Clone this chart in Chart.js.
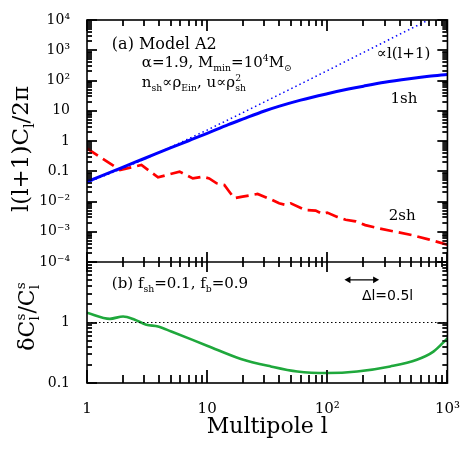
<!DOCTYPE html>
<html><head><meta charset="utf-8">
<script src="https://cdn.jsdelivr.net/npm/chart.js@4.4.1/dist/chart.umd.min.js"></script>
<style>html,body{margin:0;padding:0;background:#fff;}canvas{display:block;}</style>
</head><body>
<canvas id="c" width="469" height="469"></canvas>
<script>
// ---- data ----
const blueL = [1,2,3,5,7,10,15,20,30,40,60,100,150,200,300,500,700,1000];
const blueV = [0.045,0.138,0.264,0.60,1.02,1.8,3.5,5.4,9.8,14.2,22.5,36.6,52,65,87,116,137,158];

const dotL = [1,2,3,5,10,20,50,100,200,400,695];
const dotV = [0.042,0.126,0.25,0.63,2.3,8.8,53.6,212,845,3370,10000];

const redL = [1,1.88,2.84,3.9,5.9,7.6,9.2,10.4,12,13.9,15.3,16.8,19.7,26.3,34.8,39.7,45.2,49.7,66,80,90.7,99.8,121,142,172,207,267,368,505,695,1000];
const redV = [0.57,0.11,0.161,0.063,0.097,0.058,0.066,0.058,0.04,0.035,0.021,0.0128,0.0145,0.0177,0.0112,0.0087,0.0077,0.0087,0.0052,0.005,0.0039,0.0043,0.0031,0.0025,0.0022,0.00166,0.0013,0.001,0.00078,0.00056,0.00037];

const greenL = [1,1.55,2,2.5,3.12,3.9,5.03,10.1,19.1,33.9,56.3,100,177,334,556,764,955,1000];
const greenV = [1.45,1.15,1.26,1.11,0.92,0.86,0.71,0.41,0.25,0.188,0.155,0.146,0.155,0.188,0.242,0.33,0.50,0.55];

const unityL = [1,1000];
const unityV = [1,1];

const arrowL = [150,250];
const arrowV = [5.07,5.07];

const xTicks = [1,10,100,1000];
const xTickLabels = ['1','10','10²','10³'];
const yTopTicks = [1e-4,1e-3,1e-2,0.1,1,10,100,1e3,1e4];
const yTopLabels = ['10⁻⁴','10⁻³','10⁻²','0.1','1','10','10²','10³','10⁴'];
const yBotTicks = [0.1,1,10];
const yBotLabels = ['0.1','1',''];

// ---- helpers ----
const SERIF = "'DejaVu Serif'";
const SANS = "'DejaVu Sans'";
const pts = (L,V)=>L.map((l,i)=>({x:l,y:V[i]}));
const idx = (arr,v)=>arr.findIndex(t=>Math.abs(Math.log10(t)-Math.log10(v))<1e-6);

function segWidth(ctx,s,size,fam){
  const small = size*0.62;
  if(s.p!==undefined && s.b!==undefined){
    ctx.font = small+'px '+fam;
    return Math.max(ctx.measureText(s.p).width, ctx.measureText(s.b).width);
  }
  if(s.t!==undefined){ctx.font=size+'px '+fam;return ctx.measureText(s.t).width;}
  ctx.font = small+'px '+fam;
  return ctx.measureText(s.p!==undefined?s.p:s.b).width;
}
function drawRich(ctx,segs,x,y,size,fam,align){
  let w=0; for(const s of segs) w+=segWidth(ctx,s,size,fam);
  let cx = align==='center'? x-w/2 : x;
  const base = y + size*0.36;
  const small = size*0.62;
  ctx.textAlign='left'; ctx.textBaseline='alphabetic'; ctx.fillStyle='#000';
  for(const s of segs){
    const sw = segWidth(ctx,s,size,fam);
    if(s.t!==undefined){ctx.font=size+'px '+fam;ctx.fillText(s.t,cx,base);}
    else{
      ctx.font=small+'px '+fam;
      if(s.p!==undefined) ctx.fillText(s.p,cx,base-size*0.42);
      if(s.b!==undefined) ctx.fillText(s.b,cx,base+size*0.24);
    }
    cx+=sw;
  }
}

const notes = [
  {l:1.61, v:1740, ax:'yTop', size:16, fam:SERIF, segs:[{t:'(a) Model A2'}]},
  {l:2.86, v:420, ax:'yTop', size:15, fam:SERIF, segs:[{t:'α=1.9, M'},{b:'min'},{t:'=10'},{p:'4'},{t:'M'},{b:'⊙'}]},
  {l:2.86, v:92, ax:'yTop', size:15, fam:SERIF, segs:[{t:'n'},{b:'sh'},{t:'∝ρ'},{b:'Ein'},{t:', u∝ρ'},{p:'2',b:'sh'}]},
  {l:258, v:813, ax:'yTop', size:15, fam:SERIF, segs:[{t:'∝l(l+1)'}]},
  {l:336, v:26.4, ax:'yTop', size:15, fam:SERIF, segs:[{t:'1sh'}]},
  {l:324, v:0.0036, ax:'yTop', size:15, fam:SERIF, segs:[{t:'2sh'}]},
  {l:1.61, v:4.52, ax:'yBot', size:15, fam:SERIF, segs:[{t:'(b) f'},{b:'sh'},{t:'=0.1, f'},{b:'b'},{t:'=0.9'}]},
  {l:194, v:2.87, ax:'yBot', size:14, fam:SANS, segs:[{t:'Δl=0.5l'}]}
];

function logSet(lo,hi){
  const out=[];
  const d0=Math.round(Math.log10(lo)), d1=Math.round(Math.log10(hi));
  for(let d=d0; d<=d1; d++){
    for(let k=1;k<10;k++){
      const v=k*Math.pow(10,d);
      if(v>=lo*0.999 && v<=hi*1.001) out.push([v, k===1]);
    }
  }
  return out;
}

function drawTicks(chart){
  const ctx=chart.ctx, ca=chart.chartArea;
  const sx=chart.scales.x, st=chart.scales.yTop, sb=chart.scales.yBot;
  const mid=st.bottom, W=1.3;
  ctx.save();
  ctx.setTransform(1,0,0,1,0,0);
  ctx.globalAlpha=1; ctx.globalCompositeOperation='source-over';
  ctx.fillStyle='#000';
  const xs=logSet(1,1000);
  for(let i=0;i<xs.length;i++){
    const px=Math.round(sx.getPixelForValue(xs[i][0]));
    const mj=xs[i][1];
    const a=mj?11:6, m=mj?10:5, b=mj?13:8;
    ctx.fillRect(px-W/2, ca.top, W, a);
    ctx.fillRect(px-W/2, mid-m, W, 2*m);
    ctx.fillRect(px-W/2, ca.bottom-b, W, b);
  }
  const sets=[[st,logSet(1e-4,1e4)],[sb,logSet(0.1,10)]];
  for(let j=0;j<sets.length;j++){
    const sc=sets[j][0], list=sets[j][1];
    for(let i=0;i<list.length;i++){
      const py=Math.round(sc.getPixelForValue(list[i][0]));
      const len=list[i][1]?10:5;
      ctx.fillRect(ca.left, py-W/2, len, W);
      ctx.fillRect(ca.right-len, py-W/2, len, W);
    }
  }
  ctx.restore();
}

const framePlugin = {
  id:'framedeco',
  beforeDatasetsDraw(chart){ drawTicks(chart); },
  afterDraw(chart){
    drawTicks(chart);
    const ctx=chart.ctx, ca=chart.chartArea;
    const sx=chart.scales.x, st=chart.scales.yTop, sb=chart.scales.yBot;
    const mid = st.bottom;
    ctx.save();
    ctx.strokeStyle='#000';
    ctx.lineWidth=1.6;
    ctx.setLineDash([]);
    ctx.strokeRect(ca.left, ca.top, ca.right-ca.left, ca.bottom-ca.top);
    ctx.beginPath(); ctx.moveTo(ca.left,mid); ctx.lineTo(ca.right,mid); ctx.stroke();
    for(const n of notes){
      const x=sx.getPixelForValue(n.l), y=chart.scales[n.ax].getPixelForValue(n.v);
      drawRich(ctx,n.segs,x,y,n.size,n.fam,'left');
    }
    drawRich(ctx,[{t:'Multipole l'}],(ca.left+ca.right)/2,425,22,SERIF,'center');
    ctx.save(); ctx.translate(20,(st.top+st.bottom)/2+8); ctx.rotate(-Math.PI/2);
    drawRich(ctx,[{t:'l(l+1)C'},{b:'l'},{t:'/2π'}],0,0,23,SERIF,'center');
    ctx.restore();
    ctx.save(); ctx.translate(26,(sb.top+sb.bottom)/2-6); ctx.rotate(-Math.PI/2);
    drawRich(ctx,[{t:'δC'},{p:'s',b:'l'},{t:'/C'},{p:'s',b:'l'}],0,0,22,SERIF,'center');
    ctx.restore();
    ctx.restore();
  }
};

const tickFont = {family:'DejaVu Serif', size:14};
new Chart(document.getElementById('c').getContext('2d'), {
  type:'line',
  data:{datasets:[
    {data:pts(dotL,dotV), yAxisID:'yTop', borderColor:'#0000ff', borderWidth:1.5, borderDash:[1.5,3], pointRadius:0, tension:0},
    {data:pts(blueL,blueV), yAxisID:'yTop', borderColor:'#0000ff', borderWidth:3, pointRadius:0, cubicInterpolationMode:'monotone'},
    {data:pts(redL,redV), yAxisID:'yTop', borderColor:'#ff0000', borderWidth:2.7, borderDash:[13,6], pointRadius:0, tension:0},
    {data:pts(unityL,unityV), yAxisID:'yBot', borderColor:'#000', borderWidth:1, borderDash:[1.5,2.5], pointRadius:0},
    {data:pts(greenL,greenV), yAxisID:'yBot', borderColor:'#1fa83c', borderWidth:2.6, pointRadius:0, cubicInterpolationMode:'monotone'},
    {data:pts(arrowL,arrowV), yAxisID:'yBot', borderColor:'#000', borderWidth:1.3, pointRadius:4, pointStyle:'triangle', pointRotation:[270,90], pointBackgroundColor:'#000', pointBorderColor:'#000', pointBorderWidth:0}
  ]},
  options:{
    responsive:false, animation:false, devicePixelRatio:1,
    layout:{padding:{left:0,right:20,top:20,bottom:0}},
    plugins:{legend:{display:false}, tooltip:{enabled:false}},
    scales:{
      x:{type:'logarithmic', min:1, max:1000, position:'bottom',
         grid:{display:false}, border:{display:false},
         afterBuildTicks:s=>{s.ticks=xTicks.map(v=>({value:v}));},
         afterFit:s=>{s.height=86;},
         ticks:{autoSkip:false, maxRotation:0, padding:9, color:'#000', font:{family:'DejaVu Serif',size:15},
                callback:v=>xTickLabels[idx(xTicks,v)]}},
      yBot:{type:'logarithmic', min:0.1, max:10, position:'left', stack:'v', stackWeight:1,
         grid:{display:false}, border:{display:false},
         afterBuildTicks:s=>{s.ticks=yBotTicks.map(v=>({value:v}));},
         afterFit:s=>{s.width=87;},
         ticks:{autoSkip:false, padding:9, color:'#000', font:tickFont,
                callback:v=>yBotLabels[idx(yBotTicks,v)]}},
      yTop:{type:'logarithmic', min:1e-4, max:1e4, position:'left', stack:'v', stackWeight:2,
         grid:{display:false}, border:{display:false},
         afterBuildTicks:s=>{s.ticks=yTopTicks.map(v=>({value:v}));},
         afterFit:s=>{s.width=87;},
         ticks:{autoSkip:false, padding:9, color:'#000', font:tickFont,
                callback:v=>yTopLabels[idx(yTopTicks,v)]}}
    }
  },
  plugins:[framePlugin]
});
</script>
</body></html>
